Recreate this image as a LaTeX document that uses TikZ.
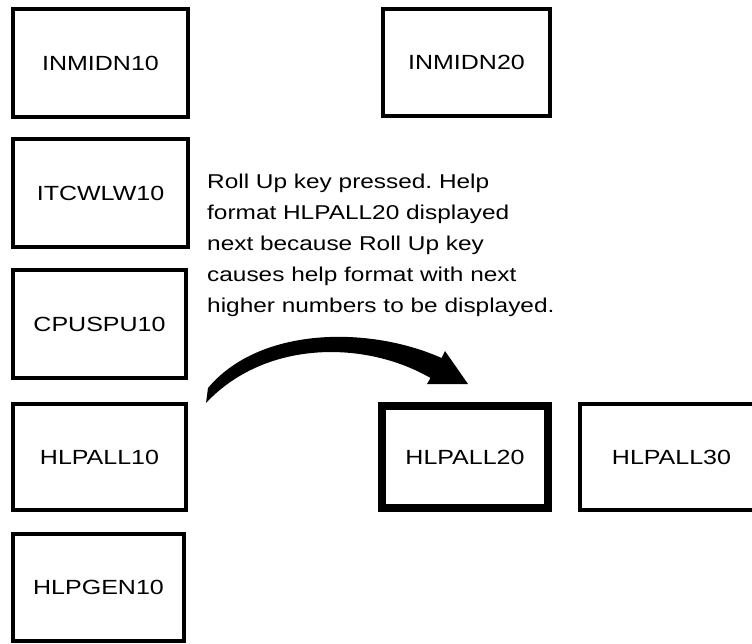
\documentclass[tikz,border=0pt]{standalone}
\usepackage{fontspec}
\setmainfont{Liberation Sans}[FakeStretch=1.22]
\frenchspacing
\begin{document}
\begin{tikzpicture}[x=1pt,y=-1pt,
  box/.style={draw, line width=4pt, minimum width=175pt, minimum height=108pt,
    inner sep=0pt, font=\fontsize{20.5}{24}\selectfont},
  thickbox/.style={box, line width=8pt},
  note/.style={anchor=north west, inner sep=0pt, align=left,
    font=\fontsize{20}{31}\selectfont}]
\useasboundingbox (0,0) rectangle (752,644);
% left column
\node[box] (inmidn10) at (100.5,63.5) {INMIDN10};
\node[box] (itcwlw10) at (100.5,193.5) {ITCWLW10};
\node[box, minimum width=173pt] (cpuspu10) at (99.5,324) {CPUSPU10};
\node[box, minimum width=173pt, minimum height=106pt] (hlpall10) at (99.5,457) {HLPALL10};
\node[box, minimum width=171pt, minimum height=107pt] (hlpgen10) at (98.5,587.5) {HLPGEN10};
% right side
\node[box, minimum width=167pt, minimum height=107pt] (inmidn20) at (466.5,62.5) {INMIDN20};
\node[thickbox, minimum width=166pt, minimum height=102pt] (hlpall20) at (465,457) {HLPALL20};
\node[box, minimum width=183pt, minimum height=106pt] (hlpall30) at (671.5,457) {HLPALL30};
% explanation
\node[note] (explain) at (207,173.5) {Roll Up key pressed. Help\\
format HLPALL20 displayed\\
next because Roll Up key\\
causes help format with next\\
higher numbers to be displayed.};
% curved arrow
\coordinate (tailtop) at (208,388);
\coordinate (tailbot) at (206,403);
\coordinate (headtop) at (445,351);
\coordinate (headtip) at (468,384);
\coordinate (headlow) at (427,384);
\fill (tailtop) .. controls (260,326) and (370,326) .. (441.5,358)
  -- (headtop) -- (headtip) -- (headlow) -- (430.5,378)
  .. controls (365,340) and (265,340) .. (tailbot) -- cycle;
\end{tikzpicture}
\end{document}
